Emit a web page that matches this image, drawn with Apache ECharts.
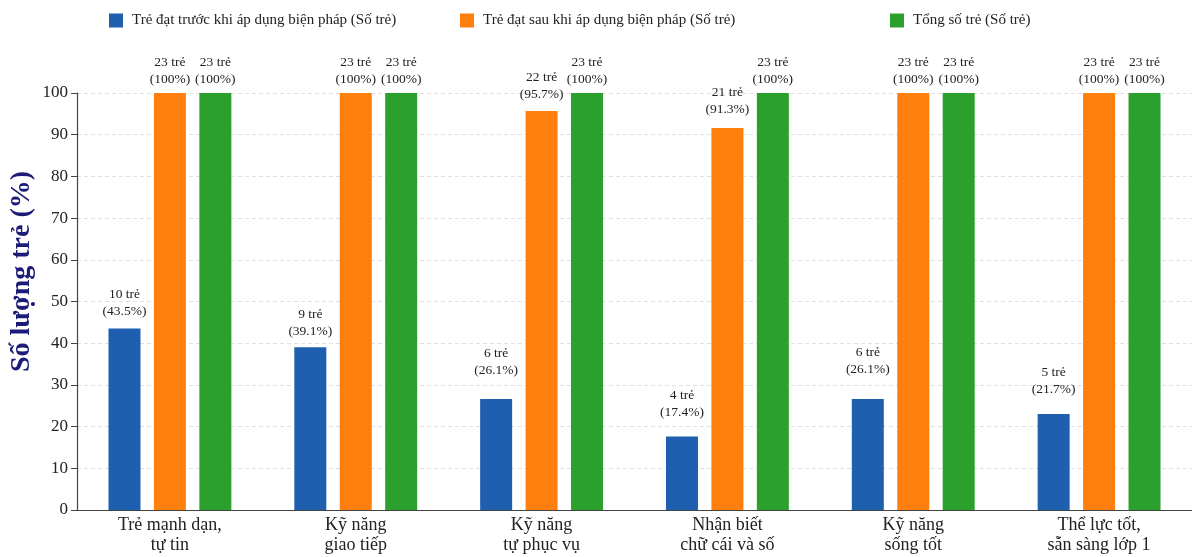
<!DOCTYPE html>
<html>
<head>
<meta charset="utf-8">
<script src="https://cdn.jsdelivr.net/npm/echarts@6/dist/echarts.min.js"></script>
<style>html,body{margin:0;padding:0;background:#fff;}#chart{width:1192px;height:557px;}</style>
</head>
<body>
<div id="chart"></div>
<script>
const categories = ['Trẻ mạnh dạn,\ntự tin', 'Kỹ năng\ngiao tiếp', 'Kỹ năng\ntự phục vụ', 'Nhận biết\nchữ cái và số', 'Kỹ năng\nsống tốt', 'Thể lực tốt,\nsẵn sàng lớp 1'];
const seriesNames = ['Trẻ đạt trước khi áp dụng biện pháp (Số trẻ)', 'Trẻ đạt sau khi áp dụng biện pháp (Số trẻ)', 'Tổng số trẻ (Số trẻ)'];
const beforeValues = [43.5, 39.0, 26.6, 17.6, 26.6, 23.0];
const afterValues = [100, 100, 95.7, 91.6, 100, 100];
const totalValues = [100, 100, 100, 100, 100, 100];
const beforeCounts = [10, 9, 6, 4, 6, 5];
const afterCounts = [23, 23, 22, 21, 23, 23];
const totalCounts = [23, 23, 23, 23, 23, 23];
const beforePct = ['43.5%', '39.1%', '26.1%', '17.4%', '26.1%', '21.7%'];
const afterPct = ['100%', '100%', '95.7%', '91.3%', '100%', '100%'];
const totalPct = ['100%', '100%', '100%', '100%', '100%', '100%'];
const yTicks = [0, 10, 20, 30, 40, 50, 60, 70, 80, 90, 100];

const FONT = '"Liberation Serif", "DejaVu Serif", serif';
const colors = ['#1f5fb0', '#ff7f0e', '#2ca02c'];
const beforeGap = [9, 7, 20, 16, 21, 16];
const afterGap = [5, 5, 8, 10, 5, 5];
const legendLefts = [104, 455, 885];

function build(values, counts, pcts, gaps) {
  return values.map((v, i) => ({
    value: v,
    label: {
      distance: gaps ? gaps[i] : 5,
      formatter: counts[i] + ' trẻ\n(' + pcts[i] + ')'
    }
  }));
}
const labelStyle = {show: true, position: 'top', fontFamily: FONT, fontSize: 13.5, color: '#222', lineHeight: 17};

const chart = echarts.init(document.getElementById('chart'), null, {renderer: 'canvas'});
chart.setOption({
  animation: false,
  color: colors,
  textStyle: {fontFamily: FONT},
  legend: seriesNames.map((n, i) => ({
    data: [n],
    top: 8,
    left: legendLefts[i],
    itemWidth: 14,
    itemHeight: 14,
    itemGap: 10,
    icon: 'rect',
    textStyle: {fontFamily: FONT, fontSize: 15, color: '#222', padding: [0, 0, 0, 4]}
  })),
  grid: {left: 77, right: 0, top: 93, bottom: 47, outerBoundsMode: 'none'},
  xAxis: {
    type: 'category',
    data: categories,
    axisLine: {lineStyle: {color: '#444', width: 1.2}},
    axisTick: {show: false},
    axisLabel: {fontFamily: FONT, fontSize: 18, color: '#222', lineHeight: 20, margin: 5, interval: 0}
  },
  yAxis: {
    type: 'value',
    min: yTicks[0],
    max: yTicks[yTicks.length - 1],
    interval: 10,
    name: 'Số lượng trẻ (%)',
    nameLocation: 'middle',
    nameGap: 41,
    nameMoveOverlap: false,
    nameTextStyle: {fontFamily: FONT, fontSize: 28, fontWeight: 'bold', color: '#1c1c78', padding: [0, 0, 0, 60]},
    axisLine: {show: true, lineStyle: {color: '#444', width: 1.2}},
    axisTick: {show: true, length: 6, lineStyle: {color: '#444'}},
    axisLabel: {fontFamily: FONT, fontSize: 17, color: '#222', margin: 9},
    splitLine: {show: true, lineStyle: {color: '#d8d8d8', type: [4, 3], width: 0.8}}
  },
  series: [
    {name: seriesNames[0], type: 'bar', barWidth: 32, barGap: '42%', data: build(beforeValues, beforeCounts, beforePct, beforeGap), label: labelStyle},
    {name: seriesNames[1], type: 'bar', barWidth: 32, barGap: '42%', data: build(afterValues, afterCounts, afterPct, afterGap), label: labelStyle},
    {name: seriesNames[2], type: 'bar', barWidth: 32, barGap: '42%', data: build(totalValues, totalCounts, totalPct, null), label: labelStyle}
  ]
});
</script>
</body>
</html>
